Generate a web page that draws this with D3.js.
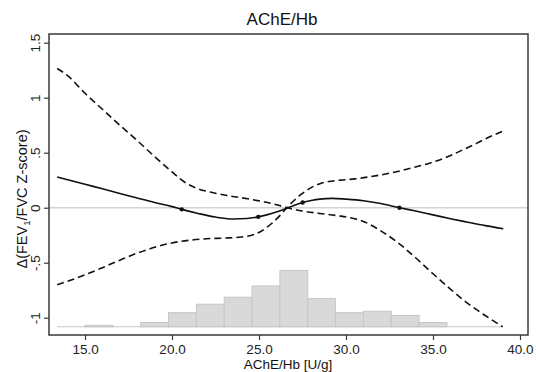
<!DOCTYPE html>
<html>
<head>
<meta charset="utf-8">
<script src="https://cdn.jsdelivr.net/npm/d3@7"></script>
<style>
  html, body { margin: 0; padding: 0; background: #fff; }
  svg { display: block; font-family: "Liberation Sans", Arial, sans-serif; }
</style>
</head>
<body>
<svg id="chart" width="536" height="372"></svg>
<script>
// ---- Data ----
const xTicks = [15, 20, 25, 30, 35, 40];
const xTickLabels = ["15.0", "20.0", "25.0", "30.0", "35.0", "40.0"];
const yTicks = [1.5, 1, 0.5, 0, -0.5, -1];
const yTickLabels = ["1.5", "1", ".5", "0", "-.5", "-1"];

// Spline estimate (solid)
const estX = [13.4, 15, 16, 17, 18, 19, 20, 20.56, 21.5, 22.5, 23.5, 24.3, 24.96, 25.5, 26, 26.6, 27, 27.51, 28, 28.5, 29.2, 30, 31, 32, 33.07, 34, 35, 36, 37, 38, 39.04];
const estY = [0.28, 0.213, 0.172, 0.13, 0.088, 0.047, 0.01, -0.015, -0.052, -0.085, -0.102, -0.098, -0.083, -0.063, -0.04, -0.005, 0.02, 0.047, 0.065, 0.078, 0.085, 0.078, 0.064, 0.038, 0.0, -0.03, -0.065, -0.1, -0.132, -0.163, -0.192];

// Confidence band line A (upper-left -> lower-right), dashed
const ciAX = [13.4, 14, 15, 16, 17, 18, 19, 20, 20.8, 21.5, 22.2, 23, 24, 25, 25.7, 26.6, 27.5, 28.5, 29.5, 30.5, 31, 32, 33, 34, 35, 36, 37, 38, 39.0];
const ciAY = [1.265, 1.2, 1.04, 0.895, 0.75, 0.61, 0.465, 0.325, 0.225, 0.172, 0.142, 0.115, 0.09, 0.062, 0.04, 0.0, -0.03, -0.052, -0.072, -0.1, -0.125, -0.21, -0.32, -0.455, -0.6, -0.74, -0.87, -0.98, -1.082];

// Confidence band line B (lower-left -> upper-right), dashed
const ciBX = [13.4, 14, 15, 16, 17, 18, 19, 20, 21, 22, 23, 24, 24.9, 25.4, 25.8, 26.2, 26.6, 27, 27.4, 28, 28.5, 29, 29.7, 30.5, 31.4, 32, 32.9, 34, 34.8, 35.8, 36.7, 37.5, 38.2, 39.0];
const ciBY = [-0.70, -0.668, -0.61, -0.545, -0.477, -0.413, -0.36, -0.32, -0.296, -0.282, -0.276, -0.266, -0.232, -0.185, -0.133, -0.072, 0.0, 0.063, 0.118, 0.183, 0.218, 0.238, 0.251, 0.262, 0.282, 0.298, 0.327, 0.37, 0.405, 0.46, 0.525, 0.585, 0.64, 0.695];

// Knots (dots on the estimate)
const knotX = [20.56, 24.96, 27.51, 33.07];
const knotY = [-0.015, -0.083, 0.047, 0.0];

// Histogram of AChE/Hb (bin start 13.4, width 1.6)
const binStart = [13.4, 15.0, 16.6, 18.2, 19.8, 21.4, 23.0, 24.6, 26.2, 27.8, 29.4, 31.0, 32.6, 34.2, 35.8, 37.4];
const binCount = [0, 1, 0, 3, 10, 16, 21, 29, 40, 20, 10, 11, 8, 3, 0, 0];
const binWidth = 1.6;
const histBaseValue = -1.082;

const titleText = "AChE/Hb";
const xTitle = "AChE/Hb [U/g]";

// ---- Layout ----
const svg = d3.select("#chart");
const plot = { left: 49, right: 528, top: 34, bottom: 335 };

const x = d3.scaleLinear().domain([12.93, 40.46]).range([plot.left, plot.right]);
const y = d3.scaleLinear().domain([-1.157, 1.579]).range([plot.bottom, plot.top]);
const hBase = y(histBaseValue);
const h = d3.scaleLinear().domain([0, 40]).range([hBase, hBase - 56.3]);

// Histogram baseline across the data range
svg.append("line")
  .attr("x1", x(binStart[0])).attr("x2", x(binStart[binStart.length - 1] + binWidth))
  .attr("y1", hBase).attr("y2", hBase)
  .attr("stroke", "#c6c6c6").attr("stroke-width", 1.2);

// Histogram bars
svg.append("g").selectAll("rect")
  .data(binStart.map((s, i) => ({ s, c: binCount[i] })).filter(d => d.c > 0))
  .join("rect")
  .attr("x", d => x(d.s))
  .attr("width", d => x(d.s + binWidth) - x(d.s))
  .attr("y", d => h(d.c))
  .attr("height", d => hBase - h(d.c))
  .attr("fill", "#d9d9d9")
  .attr("stroke", "#c6c6c6")
  .attr("stroke-width", 1);

// Reference line at 0
svg.append("line")
  .attr("x1", plot.left).attr("x2", plot.right)
  .attr("y1", y(0)).attr("y2", y(0))
  .attr("stroke", "#d4d4d4").attr("stroke-width", 1.5);

const line = d3.line().x(d => x(d[0])).y(d => y(d[1])).curve(d3.curveMonotoneX);

svg.append("path").datum(ciAX.map((v, i) => [v, ciAY[i]]))
  .attr("d", line).attr("fill", "none").attr("stroke", "#111")
  .attr("stroke-width", 1.6).attr("stroke-dasharray", "7,4");
svg.append("path").datum(ciBX.map((v, i) => [v, ciBY[i]]))
  .attr("d", line).attr("fill", "none").attr("stroke", "#111")
  .attr("stroke-width", 1.6).attr("stroke-dasharray", "7,4");
svg.append("path").datum(estX.map((v, i) => [v, estY[i]]))
  .attr("d", line).attr("fill", "none").attr("stroke", "#111")
  .attr("stroke-width", 1.6);

svg.append("g").selectAll("circle").data(knotX.map((v, i) => [v, knotY[i]]))
  .join("circle")
  .attr("cx", d => x(d[0])).attr("cy", d => y(d[1])).attr("r", 2.2)
  .attr("fill", "#111");

// Frame
svg.append("rect")
  .attr("x", plot.left).attr("y", plot.top)
  .attr("width", plot.right - plot.left).attr("height", plot.bottom - plot.top)
  .attr("fill", "none").attr("stroke", "#3a3a3a").attr("stroke-width", 1.5);

// X axis
const xAxis = d3.axisBottom(x).tickValues(xTicks).tickSize(5).tickPadding(4)
  .tickFormat((d, i) => xTickLabels[i]);
const gx = svg.append("g").attr("transform", `translate(0,${plot.bottom})`).call(xAxis);
gx.select(".domain").remove();
gx.selectAll("line").attr("stroke", "#3a3a3a").attr("stroke-width", 1.2);
gx.selectAll("text").attr("font-size", 13.5).attr("fill", "#222")
  .attr("font-family", "Liberation Sans, Arial, sans-serif");

// Y axis
const yAxis = d3.axisLeft(y).tickValues(yTicks).tickSize(5).tickFormat((d, i) => yTickLabels[i]);
const gy = svg.append("g").attr("transform", `translate(${plot.left},0)`).call(yAxis);
gy.select(".domain").remove();
gy.selectAll("line").attr("stroke", "#3a3a3a").attr("stroke-width", 1.2);
gy.selectAll("text")
  .attr("font-size", 13.5).attr("fill", "#222")
  .attr("font-family", "Liberation Sans, Arial, sans-serif")
  .attr("x", null).attr("dy", null)
  .attr("text-anchor", "middle")
  .attr("transform", "translate(-9,0) rotate(-90)");

// Titles
svg.append("text").attr("x", 282).attr("y", 25)
  .attr("text-anchor", "middle").attr("font-size", 17).attr("fill", "#111")
  .text(titleText);

svg.append("text").attr("x", 288).attr("y", 369)
  .attr("text-anchor", "middle").attr("font-size", 13.5).attr("fill", "#111")
  .text(xTitle);

const yt = svg.append("text")
  .attr("transform", `translate(27,${199}) rotate(-90)`)
  .attr("text-anchor", "middle").attr("font-size", 14.5).attr("fill", "#111");
yt.append("tspan").text("Δ(FEV");
yt.append("tspan").attr("font-size", 9.5).attr("dy", 3).text("1");
yt.append("tspan").attr("dy", -3).text("/FVC Z-score)");
</script>
</body>
</html>
